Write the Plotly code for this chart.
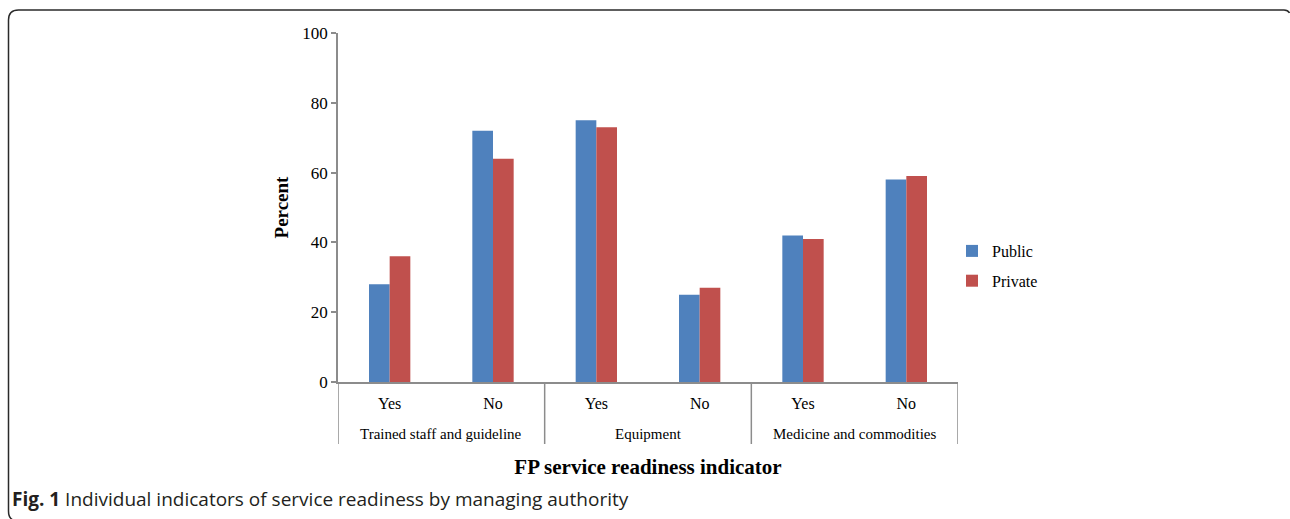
import plotly.graph_objects as go

groups = ["Trained staff and guideline", "Equipment", "Medicine and commodities"]
answers = ["Yes", "No", "Yes", "No", "Yes", "No"]
public = [28, 72, 75, 25, 42, 58]
private = [36, 64, 73, 27, 41, 59]
y_ticks = [0, 20, 40, 60, 80, 100]

# unique category keys (group | answer)
keys = [f"{groups[i // 2]}|{a}" for i, a in enumerate(answers)]

W, H = 1290, 519
L, R, T, B = 338, 958, 33, 382  # plot area in page px


def px(x):
    return (x - L) / (R - L)


def py(y):
    return (B - y) / (B - T)


def pt(x, y):
    return f"{px(x)},{py(y)}"


serif = "Liberation Serif, Times New Roman, serif"
axis_col = "#8C8C8C"

fig = go.Figure()
fig.add_trace(go.Bar(name="Public", x=keys, y=public, legendgroup="a",
                     marker=dict(color="#4F81BD", line=dict(width=0))))
fig.add_trace(go.Bar(name="Private", x=keys, y=private, legendgroup="b",
                     marker=dict(color="#C0504D", line=dict(width=0))))

shapes = []
# group dividers on the category axis (boundaries between groups)
for b in [-0.5, 1.5, 3.5, 5.5]:
    shapes.append(dict(type="line", xref="x", yref="paper", x0=b, x1=b,
                       y0=0, y1=py(444), line=dict(color=axis_col, width=1.5)))

# page frame: visible top edge and left edge with rounded corners (open path)
frame = (f"M {pt(13, 520)} Q {pt(8.5, 518)} {pt(8.5, 511)} "
         f"L {pt(8.5, 20)} Q {pt(8.5, 10)} {pt(18.5, 10)} "
         f"L {pt(1284, 10)} Q {pt(1288, 10)} {pt(1289.5, 13)}")
shapes.append(dict(type="path", xref="paper", yref="paper", path=frame,
                   line=dict(color="#2A2A2A", width=1.5),
                   fillcolor="rgba(0,0,0,0)", layer="below"))

annotations = []
for gi, g in enumerate(groups):
    annotations.append(dict(xref="x", yref="paper", x=gi * 2 + 0.5, y=py(434),
                            xanchor="center", yanchor="middle", showarrow=False,
                            text=g, font=dict(family=serif, size=15, color="black")))
annotations.append(dict(xref="paper", yref="paper", x=px(10), y=py(499),
                        xanchor="left", yanchor="middle", showarrow=False,
                        text="<b>Fig. 1</b> Individual indicators of service readiness by managing authority",
                        font=dict(family="Open Sans, sans-serif", size=19, color="#231F20")))

fig.update_layout(
    width=W, height=H,
    margin=dict(l=L, r=W - R, t=T, b=H - B, autoexpand=False),
    paper_bgcolor="white", plot_bgcolor="white",
    barmode="group", bargap=0.6, bargroupgap=0,
    font=dict(family=serif, size=16, color="black"),
    showlegend=True,
    legend=dict(x=px(952), y=py(234), xanchor="left", yanchor="top",
                font=dict(family=serif, size=16), bgcolor="rgba(0,0,0,0)",
                itemwidth=30, tracegroupgap=6, traceorder="grouped"),
    xaxis=dict(type="category", categoryorder="array", categoryarray=keys,
               tickvals=keys, ticktext=answers, range=[-0.5, 5.5],
               showline=True, linecolor=axis_col, linewidth=1.5,
               ticks="", tickfont=dict(family=serif, size=16), showgrid=False,
               automargin=False, ticklabelstandoff=6,
               title=dict(text="<b>FP service readiness indicator</b>",
                          font=dict(family=serif, size=21), standoff=48)),
    yaxis=dict(range=[0, 100], tickvals=y_ticks, showline=True, linecolor=axis_col,
               linewidth=1.5, ticks="outside", ticklen=5, tickcolor=axis_col,
               tickwidth=1.5, showgrid=False, zeroline=False, automargin=False,
               tickfont=dict(family=serif, size=17),
               title=dict(text="<b>Percent</b>", font=dict(family=serif, size=19),
                          standoff=9)),
    shapes=shapes,
    annotations=annotations,
)

fig.write_html(
    "out.html",
    config={"displayModeBar": False},
    post_script="document.body.style.margin='0';document.body.style.overflow='hidden';",
)
